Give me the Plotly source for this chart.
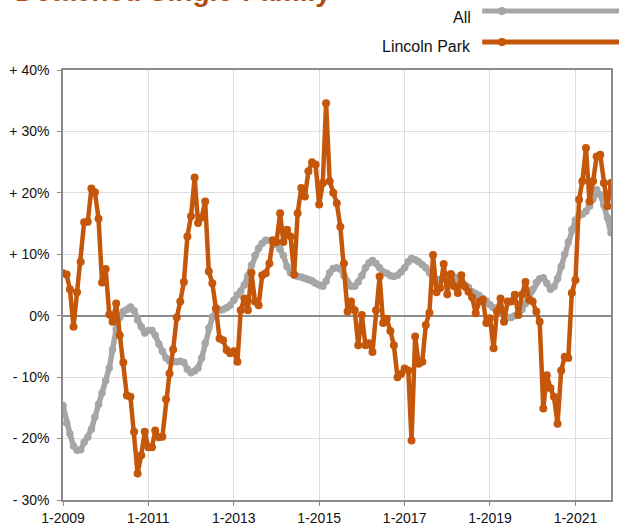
import pandas as pd
import plotly.graph_objects as go

months = pd.date_range("2009-01-01", periods=155, freq="MS")

all_values = [
    -14.6, -17.5, -19.2, -21.2, -21.9, -21.8, -20.6, -19.8, -18.5, -16.5,
    -14.4, -12.6, -10.6, -8.5, -5.5, -2.2, -0.3, 0.7, 1.0, 1.4,
    0.8, -0.7, -1.8, -2.8, -2.4, -2.4, -3.2, -4.6, -5.8, -6.9,
    -7.4, -7.5, -7.5, -7.4, -7.6, -8.7, -9.3, -9.0, -8.5, -6.9,
    -4.5, -2.0, -0.2, 0.8, 0.9, 1.0, 1.3, 1.7, 2.5, 3.4,
    4.0, 5.0, 6.5, 8.2, 9.8, 11.0, 11.8, 12.3, 12.2, 12.0,
    11.6, 10.8, 9.8, 8.0, 7.0, 6.6, 6.4, 6.3, 6.1, 5.9,
    5.7, 5.3, 5.0, 4.8, 5.6, 7.0, 7.7, 7.8, 7.6, 6.5,
    5.4, 4.8, 4.8, 5.5, 6.5, 7.8, 8.6, 9.0, 8.5, 7.8,
    7.1, 6.9, 6.5, 6.4, 6.6, 7.1, 7.8, 8.8, 9.3, 9.1,
    8.8, 8.3, 7.8, 7.0, 6.2, 5.9, 5.9, 6.3, 6.6, 6.4,
    6.3, 5.8, 5.4, 5.0, 4.6, 3.9, 3.6, 3.3, 2.8, 2.4,
    1.8, 1.3, 1.0, 0.6, 0.1, -0.3, -0.3, 0.0, 0.5, 1.0,
    2.0, 3.1, 4.3, 5.4, 6.0, 6.2, 5.3, 4.3, 4.7, 6.0,
    8.0, 10.0, 12.0, 14.0, 15.6, 16.3, 16.5, 17.0, 17.8, 19.0,
    20.5, 19.7, 18.0, 16.0, 13.5,
]

lincoln_park = [
    6.9, 6.7, 4.3, -1.8, 3.8, 8.8, 15.2, 15.3, 20.7, 20.1,
    15.8, 5.4, 7.6, 0.2, -1.0, 2.0, -3.2, -7.6, -13.0, -13.2,
    -18.9, -25.7, -22.7, -18.9, -21.4, -21.4, -18.7, -19.8, -19.7, -13.6,
    -9.4, -5.5, -0.3, 2.3, 5.5, 12.9, 16.2, 22.5, 15.1, 16.0,
    18.6, 7.2, 5.3, 1.2, -3.7, -4.0, -5.6, -6.1, -5.8, -7.5,
    0.9, 2.8, 0.9, 7.0, 2.3, 1.7, 6.6, 6.9, 8.5, 12.3,
    12.0, 16.7, 12.0, 14.0, 12.9, 6.7, 16.7, 20.8, 19.4, 23.5,
    25.0, 24.6, 18.1, 21.6, 34.6, 21.9, 20.0, 18.3, 14.5, 8.5,
    0.7, 2.3, 0.9, -4.8, 0.1, -4.8, -4.5, -5.9, 0.9, 6.4,
    -1.2, -0.5, -2.5, -4.8, -10.0, -9.5, -8.6, -8.9, -20.3, -3.4,
    -7.8, -7.5, -1.5, 0.5, 9.9, 3.8, 4.5, 8.4, 3.5, 6.8,
    4.8, 3.7, 6.6, 4.7, 3.9, 3.0, 0.4, 2.3, 2.6, -1.2,
    -0.4, -5.3, 0.7, 2.8, -1.0, 2.3, 2.3, 3.4, 0.1, 3.4,
    5.5, 2.6, 2.3, 0.7, -1.0, -15.1, -9.7, -11.8, -13.2, -17.6,
    -8.9, -6.7, -6.9, 3.7, 5.8, 18.9, 21.9, 27.3, 18.6, 21.9,
    25.9, 26.2, 21.6, 17.8, 21.6,
]

y_tick_values = [-30, -20, -10, 0, 10, 20, 30, 40]
y_tick_labels = ["- 30%", "- 20%", "- 10%", "0%", "+ 10%", "+ 20%", "+ 30%", "+ 40%"]

title_text = "Detached Single-Family"
series_names = ["All", "Lincoln Park"]

GREY = "#a6a6a6"
ORANGE = "#c5570a"
TITLE_COLOR = "#a94f13"
FONT = "Liberation Sans, Arial, Helvetica, sans-serif"

fig = go.Figure()
fig.add_trace(go.Scatter(
    x=months, y=all_values, mode="lines+markers", name=series_names[0],
    line=dict(color=GREY, width=5.5), marker=dict(color=GREY, size=7.5),
    showlegend=False,
))
fig.add_trace(go.Scatter(
    x=months, y=lincoln_park, mode="lines+markers", name=series_names[1],
    line=dict(color=ORANGE, width=4.5), marker=dict(color=ORANGE, size=8),
    showlegend=False,
))

fig.update_layout(
    width=619, height=526,
    margin=dict(l=63, r=8, t=70, b=26, autoexpand=False),
    paper_bgcolor="white", plot_bgcolor="white",
    font=dict(family=FONT, size=14, color="#111111"),
    showlegend=False,
    xaxis=dict(
        type="date", automargin=False,
        range=[months[0], months[-1]],
        tick0="2009-01-01", dtick="M24", tickformat="%-m-%Y",
        showgrid=True, gridcolor="#dddddd", gridwidth=1,
        showline=True, linecolor="#8c8c8c", linewidth=1.5, mirror=True,
        ticks="outside", ticklen=4, tickcolor="#8c8c8c",
        zeroline=False,
    ),
    yaxis=dict(
        range=[-30, 40], automargin=False,
        tickvals=y_tick_values, ticktext=y_tick_labels,
        showgrid=True, gridcolor="#dddddd", gridwidth=1,
        showline=True, linecolor="#8c8c8c", linewidth=1.5, mirror=True,
        ticks="outside", ticklen=4, tickcolor="#8c8c8c",
        zeroline=True, zerolinecolor="#8c8c8c", zerolinewidth=1.5,
        ticklabelstandoff=5,
    ),
)

# Title (mostly above the visible page, as in the reference)
fig.add_annotation(
    text="<b>" + title_text + "</b>", xref="paper", yref="paper",
    x=-0.092, y=1.182, xanchor="left", yanchor="middle", showarrow=False,
    font=dict(family=FONT, size=28, color=TITLE_COLOR),
)

# Custom legend: text right-aligned, symbol on the right
legend_rows = [(series_names[0], GREY, 1.137, 1.121), (series_names[1], ORANGE, 1.065, 1.054)]
for name, color, yline, ytext in legend_rows:
    fig.add_annotation(
        text=name, xref="paper", yref="paper", x=0.748, y=ytext,
        xanchor="right", yanchor="middle", showarrow=False,
        font=dict(family=FONT, size=16, color="#111111"),
    )
    fig.add_shape(type="line", xref="paper", yref="paper",
                  x0=0.765, x1=1.03, y0=yline, y1=yline,
                  line=dict(color=color, width=5))
    fig.add_shape(type="circle", xref="paper", yref="paper",
                  x0=0.801 - 0.0075, x1=0.801 + 0.0075,
                  y0=yline - 0.0096, y1=yline + 0.0096,
                  fillcolor=color, line=dict(color=color, width=0))

# remove the browser's default page margin so the figure fills the window
fig.write_html(
    "out.html",
    config={"displayModeBar": False},
    post_script="document.body.style.margin='0';",
)
